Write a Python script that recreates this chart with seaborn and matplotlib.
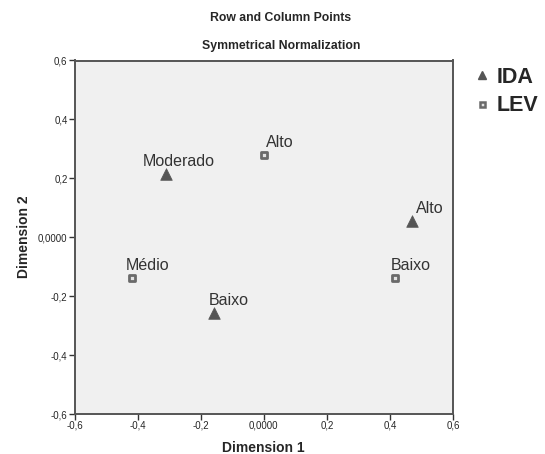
import matplotlib
matplotlib.use("Agg")
import matplotlib.pyplot as plt
from matplotlib.lines import Line2D
from matplotlib.ticker import FixedLocator, FuncFormatter
import seaborn as sns
import pandas as pd

# Correspondence analysis coordinates
ida_labels = ["Moderado", "Alto", "Baixo"]
ida_dim1 = [-0.310, 0.470, -0.157]
ida_dim2 = [0.215, 0.056, -0.257]

lev_labels = ["Alto", "Médio", "Baixo"]
lev_dim1 = [0.000, -0.417, 0.417]
lev_dim2 = [0.280, -0.137, -0.137]

axis_ticks = [-0.6, -0.4, -0.2, 0.0, 0.2, 0.4, 0.6]

df = pd.concat([
    pd.DataFrame({"label": ida_labels, "dim1": ida_dim1, "dim2": ida_dim2, "group": "IDA"}),
    pd.DataFrame({"label": lev_labels, "dim1": lev_dim1, "dim2": lev_dim2, "group": "LEV"}),
], ignore_index=True)

# label offsets (pixels) relative to each point
label_offsets = {
    ("IDA", "Moderado"): (-23, 8),
    ("IDA", "Alto"): (4, 8),
    ("IDA", "Baixo"): (-5, 8),
    ("LEV", "Alto"): (2, 8),
    ("LEV", "Médio"): (-6, 8),
    ("LEV", "Baixo"): (-5, 8),
}

sns.set_theme(style="white")
plt.rcParams["font.family"] = ["Liberation Sans", "DejaVu Sans"]

fig = plt.figure(figsize=(5.45, 4.54), dpi=100)
ax = fig.add_axes([74.5 / 545, 1 - 414 / 454, (453 - 74.5) / 545, (414 - 60.5) / 454])
ax.set_facecolor("#f0f0f0")

tri_color = "#555555"
sq_edge = "#6a6a6a"
sq_face = "#e2e2e2"

sns.scatterplot(data=df[df.group == "IDA"], x="dim1", y="dim2", marker="^",
                s=70, color=tri_color, edgecolor=tri_color, linewidth=0.5, ax=ax, legend=False)
sns.scatterplot(data=df[df.group == "LEV"], x="dim1", y="dim2", marker="s",
                s=22, facecolor=sq_face, edgecolor=sq_edge, linewidth=2.0, ax=ax, legend=False)

for _, r in df.iterrows():
    dx, dy = label_offsets[(r.group, r.label)]
    ax.annotate(r.label, (r.dim1, r.dim2), xytext=(dx, dy), textcoords="offset pixels",
                ha="left", va="baseline", fontsize=11.5, color="#333333")

ax.set_xlim(-0.6, 0.6)
ax.set_ylim(-0.6, 0.6)
ax.xaxis.set_major_locator(FixedLocator(axis_ticks))
ax.yaxis.set_major_locator(FixedLocator(axis_ticks))


def pt_fmt(v, _pos):
    if abs(v) < 1e-9:
        return "0,0000"
    return f"{v:.1f}".replace(".", ",")


ax.xaxis.set_major_formatter(FuncFormatter(pt_fmt))
ax.yaxis.set_major_formatter(FuncFormatter(pt_fmt))
ax.tick_params(axis="both", direction="out", length=4, width=1, color="#333333",
               labelsize=7, pad=1, bottom=True, left=True)

for sp in ax.spines.values():
    sp.set_color("#555555")
    sp.set_linewidth(1.4)

ax.set_xlabel("Dimension 1", fontsize=10, fontweight="bold", labelpad=7)
ax.set_ylabel("Dimension 2", fontsize=10, fontweight="bold", labelpad=5)

fig.text(281 / 545, 1 - 18 / 454, "Row and Column Points", ha="center", va="center",
         fontsize=8.8, fontweight="bold")
fig.text(281 / 545, 1 - 46 / 454, "Symmetrical Normalization", ha="center", va="center",
         fontsize=8.8, fontweight="bold")

handles = [
    Line2D([], [], linestyle="none", marker="^", markersize=6, color=tri_color, label="IDA"),
    Line2D([], [], linestyle="none", marker="s", markersize=3.6, markerfacecolor=sq_face,
           markeredgecolor=sq_edge, markeredgewidth=1.8, label="LEV"),
]
fig.legend(handles=handles, loc="upper left", bbox_to_anchor=(476 / 545, 1 - 67 / 454),
           frameon=False, prop={"size": 15.5, "weight": "bold"},
           handlelength=0.6, handletextpad=0.37, labelspacing=0.34,
           borderaxespad=0, borderpad=0)

fig.savefig("out.png", dpi=100, facecolor="white")
